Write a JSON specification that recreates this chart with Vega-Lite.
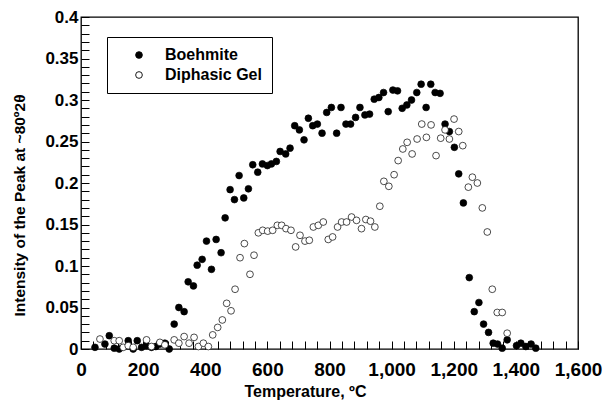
{
  "$schema": "https://vega.github.io/schema/vega-lite/v6.json",
  "width": 497,
  "height": 332,
  "autosize": "none",
  "padding": {"left": 81, "top": 17, "right": 31, "bottom": 52},
  "background": "white",
  "config": {
    "view": {"stroke": "black", "strokeWidth": 1.3},
    "font": "Liberation Sans",
    "axis": {"domain": false, "grid": false, "zindex": 1, "labelColor": "black", "titleColor": "black", "labelFlush": false}
  },
  "data": {"values": [
      {"T":45,"I":0.002,"s":"Boehmite"},{"T":77,"I":0.006,"s":"Boehmite"},{"T":91,"I":0.016,"s":"Boehmite"},{"T":107,"I":0.001,"s":"Boehmite"},{"T":123,"I":0.0,"s":"Boehmite"},{"T":152,"I":0.010,"s":"Boehmite"},{"T":168,"I":0.0,"s":"Boehmite"},{"T":181,"I":0.010,"s":"Boehmite"},{"T":195,"I":0.002,"s":"Boehmite"},{"T":211,"I":0.004,"s":"Boehmite"},{"T":227,"I":0.002,"s":"Boehmite"},{"T":241,"I":0.003,"s":"Boehmite"},{"T":254,"I":0.006,"s":"Boehmite"},{"T":270,"I":0.007,"s":"Boehmite"},{"T":284,"I":0.0,"s":"Boehmite"},{"T":300,"I":0.030,"s":"Boehmite"},{"T":315,"I":0.050,"s":"Boehmite"},{"T":332,"I":0.045,"s":"Boehmite"},{"T":345,"I":0.081,"s":"Boehmite"},{"T":362,"I":0.076,"s":"Boehmite"},{"T":374,"I":0.101,"s":"Boehmite"},{"T":390,"I":0.108,"s":"Boehmite"},{"T":404,"I":0.130,"s":"Boehmite"},{"T":420,"I":0.096,"s":"Boehmite"},{"T":435,"I":0.132,"s":"Boehmite"},{"T":451,"I":0.116,"s":"Boehmite"},{"T":464,"I":0.158,"s":"Boehmite"},{"T":480,"I":0.192,"s":"Boehmite"},{"T":494,"I":0.180,"s":"Boehmite"},{"T":509,"I":0.209,"s":"Boehmite"},{"T":524,"I":0.182,"s":"Boehmite"},{"T":539,"I":0.193,"s":"Boehmite"},{"T":553,"I":0.222,"s":"Boehmite"},{"T":569,"I":0.213,"s":"Boehmite"},{"T":584,"I":0.223,"s":"Boehmite"},{"T":600,"I":0.221,"s":"Boehmite"},{"T":613,"I":0.223,"s":"Boehmite"},{"T":629,"I":0.226,"s":"Boehmite"},{"T":641,"I":0.238,"s":"Boehmite"},{"T":659,"I":0.235,"s":"Boehmite"},{"T":673,"I":0.242,"s":"Boehmite"},{"T":688,"I":0.269,"s":"Boehmite"},{"T":703,"I":0.264,"s":"Boehmite"},{"T":718,"I":0.252,"s":"Boehmite"},{"T":732,"I":0.278,"s":"Boehmite"},{"T":746,"I":0.269,"s":"Boehmite"},{"T":761,"I":0.271,"s":"Boehmite"},{"T":776,"I":0.260,"s":"Boehmite"},{"T":791,"I":0.285,"s":"Boehmite"},{"T":806,"I":0.291,"s":"Boehmite"},{"T":823,"I":0.260,"s":"Boehmite"},{"T":837,"I":0.291,"s":"Boehmite"},{"T":853,"I":0.271,"s":"Boehmite"},{"T":868,"I":0.271,"s":"Boehmite"},{"T":884,"I":0.279,"s":"Boehmite"},{"T":898,"I":0.291,"s":"Boehmite"},{"T":914,"I":0.282,"s":"Boehmite"},{"T":929,"I":0.283,"s":"Boehmite"},{"T":944,"I":0.301,"s":"Boehmite"},{"T":959,"I":0.303,"s":"Boehmite"},{"T":974,"I":0.309,"s":"Boehmite"},{"T":989,"I":0.286,"s":"Boehmite"},{"T":1004,"I":0.312,"s":"Boehmite"},{"T":1019,"I":0.311,"s":"Boehmite"},{"T":1034,"I":0.290,"s":"Boehmite"},{"T":1049,"I":0.294,"s":"Boehmite"},{"T":1064,"I":0.300,"s":"Boehmite"},{"T":1081,"I":0.309,"s":"Boehmite"},{"T":1095,"I":0.319,"s":"Boehmite"},{"T":1111,"I":0.291,"s":"Boehmite"},{"T":1126,"I":0.319,"s":"Boehmite"},{"T":1140,"I":0.309,"s":"Boehmite"},{"T":1156,"I":0.308,"s":"Boehmite"},{"T":1172,"I":0.271,"s":"Boehmite"},{"T":1186,"I":0.262,"s":"Boehmite"},{"T":1202,"I":0.243,"s":"Boehmite"},{"T":1216,"I":0.211,"s":"Boehmite"},{"T":1231,"I":0.176,"s":"Boehmite"},{"T":1250,"I":0.086,"s":"Boehmite"},{"T":1266,"I":0.045,"s":"Boehmite"},{"T":1281,"I":0.056,"s":"Boehmite"},{"T":1296,"I":0.030,"s":"Boehmite"},{"T":1312,"I":0.020,"s":"Boehmite"},{"T":1327,"I":0.007,"s":"Boehmite"},{"T":1341,"I":0.006,"s":"Boehmite"},{"T":1356,"I":0.001,"s":"Boehmite"},{"T":1372,"I":0.011,"s":"Boehmite"},{"T":1402,"I":0.004,"s":"Boehmite"},{"T":1416,"I":0.007,"s":"Boehmite"},{"T":1432,"I":0.003,"s":"Boehmite"},{"T":1449,"I":0.006,"s":"Boehmite"},{"T":1464,"I":0.001,"s":"Boehmite"},
      {"T":61,"I":0.012,"s":"Diphasic Gel"},{"T":107,"I":0.010,"s":"Diphasic Gel"},{"T":123,"I":0.010,"s":"Diphasic Gel"},{"T":136,"I":0.002,"s":"Diphasic Gel"},{"T":152,"I":0.004,"s":"Diphasic Gel"},{"T":168,"I":0.002,"s":"Diphasic Gel"},{"T":211,"I":0.011,"s":"Diphasic Gel"},{"T":227,"I":0.003,"s":"Diphasic Gel"},{"T":254,"I":0.008,"s":"Diphasic Gel"},{"T":270,"I":0.005,"s":"Diphasic Gel"},{"T":300,"I":0.011,"s":"Diphasic Gel"},{"T":315,"I":0.007,"s":"Diphasic Gel"},{"T":332,"I":0.015,"s":"Diphasic Gel"},{"T":348,"I":0.007,"s":"Diphasic Gel"},{"T":364,"I":0.014,"s":"Diphasic Gel"},{"T":378,"I":0.003,"s":"Diphasic Gel"},{"T":394,"I":0.007,"s":"Diphasic Gel"},{"T":410,"I":0.003,"s":"Diphasic Gel"},{"T":424,"I":0.017,"s":"Diphasic Gel"},{"T":440,"I":0.026,"s":"Diphasic Gel"},{"T":455,"I":0.035,"s":"Diphasic Gel"},{"T":469,"I":0.055,"s":"Diphasic Gel"},{"T":483,"I":0.046,"s":"Diphasic Gel"},{"T":496,"I":0.072,"s":"Diphasic Gel"},{"T":512,"I":0.110,"s":"Diphasic Gel"},{"T":526,"I":0.127,"s":"Diphasic Gel"},{"T":544,"I":0.090,"s":"Diphasic Gel"},{"T":557,"I":0.113,"s":"Diphasic Gel"},{"T":571,"I":0.140,"s":"Diphasic Gel"},{"T":585,"I":0.143,"s":"Diphasic Gel"},{"T":601,"I":0.142,"s":"Diphasic Gel"},{"T":617,"I":0.143,"s":"Diphasic Gel"},{"T":632,"I":0.149,"s":"Diphasic Gel"},{"T":646,"I":0.149,"s":"Diphasic Gel"},{"T":660,"I":0.145,"s":"Diphasic Gel"},{"T":676,"I":0.143,"s":"Diphasic Gel"},{"T":691,"I":0.123,"s":"Diphasic Gel"},{"T":705,"I":0.137,"s":"Diphasic Gel"},{"T":721,"I":0.130,"s":"Diphasic Gel"},{"T":735,"I":0.131,"s":"Diphasic Gel"},{"T":748,"I":0.147,"s":"Diphasic Gel"},{"T":764,"I":0.149,"s":"Diphasic Gel"},{"T":780,"I":0.153,"s":"Diphasic Gel"},{"T":796,"I":0.132,"s":"Diphasic Gel"},{"T":810,"I":0.135,"s":"Diphasic Gel"},{"T":826,"I":0.147,"s":"Diphasic Gel"},{"T":839,"I":0.153,"s":"Diphasic Gel"},{"T":855,"I":0.153,"s":"Diphasic Gel"},{"T":871,"I":0.159,"s":"Diphasic Gel"},{"T":887,"I":0.155,"s":"Diphasic Gel"},{"T":903,"I":0.145,"s":"Diphasic Gel"},{"T":917,"I":0.156,"s":"Diphasic Gel"},{"T":932,"I":0.154,"s":"Diphasic Gel"},{"T":946,"I":0.147,"s":"Diphasic Gel"},{"T":962,"I":0.172,"s":"Diphasic Gel"},{"T":975,"I":0.202,"s":"Diphasic Gel"},{"T":991,"I":0.196,"s":"Diphasic Gel"},{"T":1008,"I":0.210,"s":"Diphasic Gel"},{"T":1021,"I":0.227,"s":"Diphasic Gel"},{"T":1036,"I":0.241,"s":"Diphasic Gel"},{"T":1050,"I":0.249,"s":"Diphasic Gel"},{"T":1066,"I":0.235,"s":"Diphasic Gel"},{"T":1082,"I":0.253,"s":"Diphasic Gel"},{"T":1097,"I":0.271,"s":"Diphasic Gel"},{"T":1112,"I":0.255,"s":"Diphasic Gel"},{"T":1127,"I":0.270,"s":"Diphasic Gel"},{"T":1143,"I":0.233,"s":"Diphasic Gel"},{"T":1158,"I":0.254,"s":"Diphasic Gel"},{"T":1172,"I":0.264,"s":"Diphasic Gel"},{"T":1186,"I":0.253,"s":"Diphasic Gel"},{"T":1201,"I":0.277,"s":"Diphasic Gel"},{"T":1216,"I":0.262,"s":"Diphasic Gel"},{"T":1229,"I":0.245,"s":"Diphasic Gel"},{"T":1247,"I":0.195,"s":"Diphasic Gel"},{"T":1260,"I":0.207,"s":"Diphasic Gel"},{"T":1276,"I":0.200,"s":"Diphasic Gel"},{"T":1292,"I":0.170,"s":"Diphasic Gel"},{"T":1308,"I":0.141,"s":"Diphasic Gel"},{"T":1324,"I":0.072,"s":"Diphasic Gel"},{"T":1340,"I":0.044,"s":"Diphasic Gel"},{"T":1356,"I":0.044,"s":"Diphasic Gel"},{"T":1372,"I":0.019,"s":"Diphasic Gel"}
  ]},
  "mark": {"type": "point", "filled": true, "stroke": "black", "strokeWidth": 0.7, "size": 46, "opacity": 1},
  "encoding": {
    "x": {"field": "T", "type": "quantitative", "scale": {"domain": [0, 1600], "nice": false},
      "axis": {"orient": "bottom", "values": [0,40,80,120,160,200,240,280,320,360,400,440,480,520,560,600,640,680,720,760,800,840,880,920,960,1000,1040,1080,1120,1160,1200,1240,1280,1320,1360,1400,1440,1480,1520,1560,1600],
        "labelExpr": "datum.value % 200 === 0 ? format(datum.value, ',d') : ''",
        "ticks": true, "tickSize": -8, "tickColor": "black", "tickWidth": 1, "tickOpacity": 1,
        "encode": {"ticks": {"update": {"y2": {"signal": "datum.value % 200 === 0 ? -8 : -4"}}}},
        "labelPadding": 19, "labelOverlap": false, "labelBound": false, "labelFontSize": 19, "labelFontWeight": "bold", "labelFont": "Liberation Sans",
        "title": "Temperature, ºC", "titleFontSize": 16, "titleFontWeight": "bold", "titleFont": "Liberation Sans", "titleX": 224, "titleY": 47, "titleAlign": "center", "titleBaseline": "alphabetic"}},
    "y": {"field": "I", "type": "quantitative", "scale": {"domain": [0, 0.4], "nice": false},
      "axis": {"orient": "left", "values": [0,0.01,0.02,0.03,0.04,0.05,0.06,0.07,0.08,0.09,0.1,0.11,0.12,0.13,0.14,0.15,0.16,0.17,0.18,0.19,0.2,0.21,0.22,0.23,0.24,0.25,0.26,0.27,0.28,0.29,0.3,0.31,0.32,0.33,0.34,0.35,0.36,0.37,0.38,0.39,0.4],
        "labelExpr": "abs(datum.value * 20 - round(datum.value * 20)) < 0.000001 ? ('' + datum.value) : ''",
        "ticks": true, "tickSize": -8, "tickColor": "black", "tickWidth": 1, "tickOpacity": 1,
        "encode": {"ticks": {"update": {"x2": {"signal": "abs(datum.value * 20 - round(datum.value * 20)) < 0.000001 ? 8 : 4"}}}},
        "labelPadding": 11, "labelOverlap": false, "labelBound": false, "labelFontSize": 17, "labelFontWeight": "bold", "labelFont": "Liberation Sans",
        "title": "Intensity of the Peak at ~80º2θ", "titleFontSize": 15.5, "titleFontWeight": "bold", "titleFont": "Liberation Sans", "titleX": -62, "titleY": 188, "titleAlign": "center", "titleBaseline": "middle", "titleAngle": -90}},
    "fill": {"field": "s", "type": "nominal", "scale": {"domain": ["Boehmite", "Diphasic Gel"], "range": ["black", "white"]},
      "legend": {"title": null, "orient": "none", "legendX": 26, "legendY": 20, "strokeColor": "black", "fillColor": "white", "padding": 10, "symbolOffset": 14, "labelOffset": 18, "rowPadding": 4, "symbolSize": 45, "symbolStrokeColor": "black", "symbolStrokeWidth": 0.9, "symbolType": "circle", "labelFont": "Liberation Sans", "labelFontWeight": "bold", "labelFontSize": 16, "labelColor": "black", "cornerRadius": 0}}
  }
}
